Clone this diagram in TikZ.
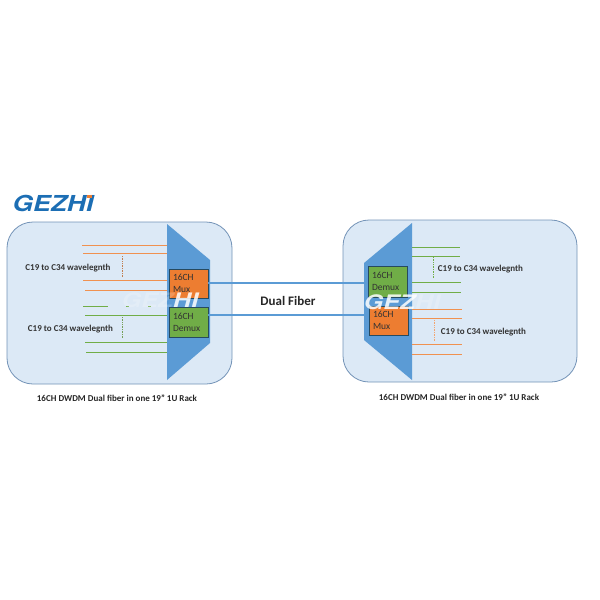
\documentclass[tikz,border=0pt]{standalone}
\usepackage{graphicx}
\usepackage{fontspec}
\setmainfont{Carlito}
\newfontfamily\logofont[BoldFeatures={FakeBold=1.5}]{TeX Gyre Heros}
\usepackage{xcolor}
\definecolor{rackfill}{HTML}{DCE9F6}
\definecolor{rackline}{HTML}{7393B7}
\definecolor{fiberblue}{HTML}{5B9BD5}
\definecolor{boxorange}{HTML}{ED7D31}
\definecolor{boxgreen}{HTML}{70AD47}
\definecolor{boxline}{HTML}{264A60}
\definecolor{logoblue}{HTML}{1C6EB4}
\tikzset{
    rack/.style={draw=rackline,fill=rackfill,line width=.8pt,rounded corners=26pt},
    chbox/.style={draw=boxline,line width=.8pt,text width=31pt,inner xsep=4pt,inner ysep=0pt,align=left,text=black!80,font=\fontsize{9.5}{12}\selectfont},
    wavelabel/.style={font=\fontsize{9}{10}\selectfont\bfseries,text=black!80},
    caplabel/.style={font=\fontsize{9}{10}\selectfont\bfseries,text=black!85},
    wire/.style={line width=1pt},
    dots/.style={line width=.7pt,densely dotted},
    fiber/.style={fiberblue,line width=1.2pt},
    stamp/.style={text=white,inner sep=0pt,font=\logofont\bfseries\itshape\fontsize{20}{20}\selectfont}
}
\begin{document}
\begin{tikzpicture}[x=1pt,y=-1pt]
    \useasboundingbox (0,0) rectangle (600,600);
    % racks
    \draw[rack] (7,222) rectangle (232,384);
    \draw[rack] (343,220) rectangle (577,382);
    % trapezoids
    \fill[fiberblue] (167,224) -- (210,260) -- (210,343) -- (167,380) -- cycle;
    \fill[fiberblue] (412,223) -- (364,263) -- (364,340) -- (412,380) -- cycle;
    % wavelength lines left
    \foreach \y/\a in {245/82,253.5/83,280.5/83,290/85} { \draw[wire,boxorange!85] (\a,\y) -- (167,\y); }
    \foreach \y/\a in {315/85,342.5/85,352.5/86} { \draw[wire,boxgreen] (\a,\y) -- (167,\y); }
    \foreach \a/\b in {83/108,126/129,148/151} { \draw[wire,boxgreen] (\a,306.5) -- (\b,306.5); }
    % wavelength lines right
    \foreach \y in {247,256} { \draw[wire,boxgreen] (412,\y) -- (460,\y); }
    \foreach \y in {282.7,292.5} { \draw[wire,boxgreen] (412,\y) -- (461,\y); }
    \foreach \y in {309,318,344.5,354} { \draw[wire,boxorange!85] (412,\y) -- (462,\y); }
    % dots
    \draw[dots,boxorange!60!gray] (122,256) -- (122,277);
    \draw[dots,boxgreen!70!gray] (122.5,317) -- (122.5,339);
    \draw[dots,boxgreen] (433,257) -- (433,279);
    \draw[dots,boxorange!70] (434,320) -- (434,342);
    % boxes
    \node[chbox,fill=boxorange,minimum height=29pt] (muxL) at (188.5,283.5) {16CH\\Mux};
    \node[chbox,fill=boxgreen,minimum height=30pt] (demuxL) at (188.5,322) {16CH\\Demux};
    \node[chbox,fill=boxgreen,minimum height=31pt] (demuxR) at (387.5,281.5) {16CH\\Demux};
    \node[chbox,fill=boxorange,minimum height=29pt] (muxR) at (388.5,320.5) {16CH\\Mux};
    % fibers
    \coordinate (fiberAL) at (208,283);
    \coordinate (fiberAR) at (364,283);
    \coordinate (fiberBL) at (208,315);
    \coordinate (fiberBR) at (364,315);
    \draw[fiber] (fiberAL) -- (fiberAR);
    \draw[fiber] (fiberBL) -- (fiberBR);
    % labels
    \node[wavelabel] (waveA) at (68,268) {C19 to C34 wavelegnth};
    \node[wavelabel] (waveB) at (70.5,329) {C19 to C34 wavelegnth};
    \node[wavelabel] (waveC) at (480.5,269) {C19 to C34 wavelegnth};
    \node[wavelabel] (waveD) at (483.5,332) {C19 to C34 wavelegnth};
    \node[font=\fontsize{13}{14}\selectfont\bfseries,text=black!85] (dual) at (288,301) {Dual Fiber};
    \node[caplabel] (capL) at (117,398) {16CH DWDM Dual fiber in one 19” 1U Rack};
    \node[caplabel] (capR) at (459,397) {16CH DWDM Dual fiber in one 19” 1U Rack};
    % logo
    \node[inner sep=0pt,text=logoblue,font=\logofont\bfseries\itshape\fontsize{22}{22}\selectfont] (logo) at (53,203) {\scalebox{1.2}[1]{GEZHI}};
    \fill[boxorange] (87,195) rectangle (92,198);
    % stamps
    \node[stamp] (stampL) at (160,300) {\scalebox{1.25}[1]{\pgfsetfillopacity{.2}GEZ\pgfsetfillopacity{.85}HI}};
    \node[stamp] (stampR) at (402,302) {\scalebox{1.25}[1]{\pgfsetfillopacity{.85}GEZ\pgfsetfillopacity{.2}HI}};
\end{tikzpicture}
\end{document}
